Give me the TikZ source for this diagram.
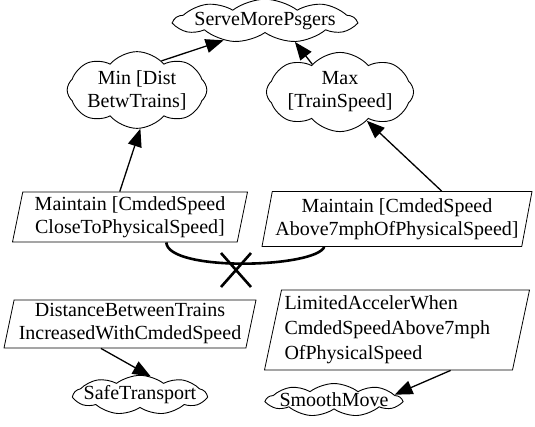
\documentclass[tikz,border=0pt]{standalone}
\usepackage{fontspec}
\setmainfont{Liberation Serif}
\usetikzlibrary{shapes.symbols, shapes.geometric, arrows.meta}

\begin{document}
\begin{tikzpicture}[x=1pt, y=-1pt,
  every node/.style={font=\fontsize{20}{23}\selectfont},
  goal/.style={cloud, draw, line width=0.9pt, cloud puffs=8, cloud puff arc=100, cloud ignores aspect, inner sep=0pt, align=center},
  flatgoal/.style={goal, cloud puffs=9, cloud puff arc=75, inner xsep=-11pt, inner ysep=0pt},
  req/.style={trapezium, draw, line width=0.8pt, trapezium left angle=76, trapezium right angle=104, trapezium stretches body, inner sep=0pt, align=center},
  refine/.style={line width=1.3pt, -{Triangle[length=18pt, width=14pt]}},
  conflictline/.style={line width=2.6pt}]
\useasboundingbox (0,0) rectangle (535,426);
% goals
\node[flatgoal, inner xsep=-9pt, minimum width=180pt, minimum height=30pt] (serve) at (265,21) {ServeMorePsgers};
\node[goal, minimum width=122pt, minimum height=62pt] (mindist) at (137,90) {Min [Dist\\BetwTrains]};
\node[goal, minimum width=145pt, minimum height=62pt] (maxspeed) at (340,92) {Max\\{[TrainSpeed]}};
% requirements
\node[req, minimum width=235pt, minimum height=50pt] (keepclose) at (130,217) {Maintain [CmdedSpeed\\CloseToPhysicalSpeed]};
\node[req, minimum width=270pt, minimum height=55pt] (keepabove) at (397,219) {Maintain [CmdedSpeed\\Above7mphOfPhysicalSpeed]};
\node[req, minimum width=252pt, minimum height=48pt] (distinc) at (130,324) {DistanceBetweenTrains\\IncreasedWithCmdedSpeed};
\node[req, minimum width=265pt, minimum height=80pt, align=left, text width=225pt,
  font=\fontsize{20}{25}\selectfont] (limaccel) at (397,330) {LimitedAccelerWhen\\CmdedSpeedAbove7mph\\OfPhysicalSpeed};
% soft goals
\node[flatgoal, minimum width=132pt, minimum height=32pt] (safe) at (140,395) {SafeTransport};
\node[flatgoal, minimum width=134pt, minimum height=32pt] (smooth) at (334,400) {SmoothMove};
% refinements
\draw[refine] (mindist.50) -- (serve.205);
\draw[refine] (maxspeed.135) -- (serve.325);
\draw[refine] (keepclose.112) -- (mindist.275);
\draw[refine] (keepabove.32) -- (maxspeed.313);
\draw[refine] (distinc.220) -- (safe.60);
\draw[refine] (limaccel.323) -- (smooth.5);
% conflict
\draw[conflictline] (keepclose.-35) .. controls (168,272) and (315,268) .. (keepabove.201);
\coordinate (conflict) at (236,270);
\draw[conflictline] (conflict) +(-15,-17) -- +(15,17) (conflict) +(15,-17) -- +(-15,17);
\end{tikzpicture}
\end{document}
